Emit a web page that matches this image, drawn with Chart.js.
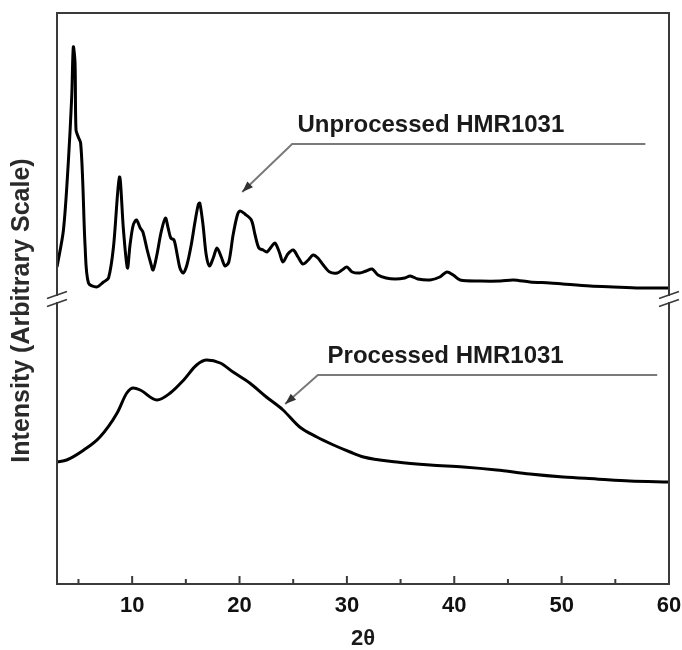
<!DOCTYPE html>
<html>
<head>
<meta charset="utf-8">
<script src="https://cdn.jsdelivr.net/npm/chart.js@4.4.1/dist/chart.umd.min.js"></script>
<style>
  html, body { margin: 0; padding: 0; background: #fff; }
  #wrap { width: 682px; height: 650px; }
</style>
</head>
<body>
<div id="wrap"><canvas id="xrdChart" width="682" height="650"></canvas></div>
<script>
// 2-theta angles and intensities (arbitrary units)
const unprocAngle = [
  3.0, 3.6, 4.05, 4.37, 4.52, 4.68, 4.77, 4.98, 5.2, 5.39,
  5.62, 5.93, 6.7, 7.33, 7.8, 8.26, 8.82, 9.19, 9.56, 9.8,
  10.1, 10.4, 10.75, 11.0, 11.4, 11.7, 11.95, 12.3, 12.7, 13.1,
  13.35, 13.6, 13.9, 14.2, 14.45, 14.75, 15.1, 15.5, 15.85, 16.15,
  16.3, 16.6, 16.9, 17.2, 17.55, 17.9, 18.3, 18.65, 19.0, 19.4,
  19.8, 20.05, 20.5, 21.1, 21.45, 21.8, 22.2, 22.55, 22.95, 23.3,
  23.7, 24.05, 24.5, 25.0, 25.45, 25.9, 26.4, 26.85, 27.3, 27.8,
  28.4, 29.1, 29.55, 30.0, 30.5, 31.2, 31.8, 32.35, 32.9, 33.65,
  34.5, 35.4, 35.9, 36.6, 37.75, 38.65, 39.3, 39.9, 40.55, 42.4,
  44.3, 45.5, 47.05, 48.9, 50.1, 52.65, 54.8, 57.3, 60
];
const unprocIntensity = [
  317, 354, 421, 487, 537, 521, 454, 447, 441, 404,
  337, 301, 297, 302, 306, 337, 407, 354, 316, 339,
  359, 364, 356, 352, 334, 322, 314, 329, 352, 366,
  356, 346, 344, 329, 316, 311, 319, 339, 362, 379,
  381, 359, 329, 318, 326, 336, 327, 318, 322, 349,
  369, 373, 370, 364, 349, 336, 334, 332, 337, 341,
  332, 322, 330, 334, 327, 320, 324, 329, 326, 319,
  312, 311, 314, 317, 312, 311, 313, 315, 309, 306,
  305, 306, 308, 305, 304, 307, 312, 309, 304, 303,
  303, 304, 302, 301, 300, 298, 297, 296, 296
];
const procAngle = [
  3.0, 3.9, 5.5, 7.0, 8.6, 9.5, 10.1, 10.75, 12.3, 13.55,
  14.8, 16.0, 16.95, 18.2, 19.4, 20.95, 22.5, 24.05, 25.6, 27.2,
  28.75, 30.3, 31.55, 34.65, 37.75, 40.85, 43.95, 47.05, 50.15, 53.25,
  56.35, 60
];
const procIntensity = [
  122, 124, 134, 147, 171, 191, 196, 194, 184, 191,
  204, 219, 224, 221, 212, 201, 187, 174, 157, 147,
  139, 132, 127, 122, 119, 117, 114, 110, 107, 105,
  103, 102
];
const majorTicks = [10, 20, 30, 40, 50, 60];
const minorTicks = [5, 15, 25, 35, 45, 55];
const seriesLabels = ['Unprocessed HMR1031', 'Processed HMR1031'];

// callouts in data units: label start, elbow of the leader, end of the leader, arrow tip
const callouts = [
  { text: seriesLabels[0], tx: 25.4, ty: 452, ex: 24.9, ey: 440, endX: 57.8, px: 20.25, py: 392 },
  { text: seriesLabels[1], tx: 28.2, ty: 221, ex: 27.3, ey: 209, endX: 58.9, px: 24.25, py: 180 }
];
const breakValue = 285;

const boldFont = '"Liberation Sans", Arial, Helvetica, sans-serif';

const frameAndNotes = {
  id: 'frameAndNotes',
  afterDatasetsDraw(chart) {
    const { ctx, chartArea: a, scales: { x, y } } = chart;
    ctx.save();

    // box frame
    ctx.strokeStyle = '#3a3a3a';
    ctx.lineWidth = 2;
    ctx.strokeRect(a.left, a.top, a.right - a.left, a.bottom - a.top);

    // inward ticks on the bottom axis
    ctx.beginPath();
    majorTicks.forEach(v => {
      const px = x.getPixelForValue(v);
      ctx.moveTo(px, a.bottom);
      ctx.lineTo(px, a.bottom - 8);
    });
    minorTicks.forEach(v => {
      const px = x.getPixelForValue(v);
      ctx.moveTo(px, a.bottom);
      ctx.lineTo(px, a.bottom - 5);
    });
    ctx.stroke();

    // axis breaks
    const by = y.getPixelForValue(breakValue);
    [a.left, a.right].forEach(ax => {
      ctx.fillStyle = '#fff';
      ctx.fillRect(ax - 3, by - 3, 6, 6);
      ctx.strokeStyle = '#3a3a3a';
      ctx.lineWidth = 1.6;
      ctx.beginPath();
      [-4, 4].forEach(k => {
        ctx.moveTo(ax - 10, by + k + 3.5);
        ctx.lineTo(ax + 10, by + k - 3.5);
      });
      ctx.stroke();
    });

    // callouts
    callouts.forEach(c => {
      const ex = x.getPixelForValue(c.ex), ey = y.getPixelForValue(c.ey);
      const px = x.getPixelForValue(c.px), py = y.getPixelForValue(c.py);
      ctx.strokeStyle = '#7a7a7a';
      ctx.lineWidth = 2;
      ctx.beginPath();
      ctx.moveTo(x.getPixelForValue(c.endX), ey);
      ctx.lineTo(ex, ey);
      ctx.lineTo(px, py);
      ctx.stroke();
      const ang = Math.atan2(py - ey, px - ex);
      ctx.fillStyle = '#333';
      ctx.beginPath();
      ctx.moveTo(px, py);
      ctx.lineTo(px - 11 * Math.cos(ang) + 4 * Math.sin(ang), py - 11 * Math.sin(ang) - 4 * Math.cos(ang));
      ctx.lineTo(px - 11 * Math.cos(ang) - 4 * Math.sin(ang), py - 11 * Math.sin(ang) + 4 * Math.cos(ang));
      ctx.closePath();
      ctx.fill();

      ctx.fillStyle = '#1a1a1a';
      ctx.font = 'bold 24px ' + boldFont;
      ctx.textAlign = 'left';
      ctx.textBaseline = 'alphabetic';
      ctx.fillText(c.text, x.getPixelForValue(c.tx), y.getPixelForValue(c.ty));
    });

    // y axis title
    ctx.translate(22, (a.top + a.bottom) / 2 + 12);
    ctx.rotate(-Math.PI / 2);
    ctx.fillStyle = '#2a2a2a';
    ctx.font = 'bold 25px ' + boldFont;
    ctx.textAlign = 'center';
    ctx.textBaseline = 'middle';
    ctx.fillText('Intensity (Arbitrary Scale)', 0, 0);

    ctx.restore();
  }
};

const canvas = document.getElementById('xrdChart');

new Chart(canvas, {
  type: 'line',
  data: {
    datasets: [
      {
        label: seriesLabels[0],
        data: unprocAngle.map((a, i) => ({ x: a, y: unprocIntensity[i] })),
        borderColor: '#000',
        borderWidth: 3,
        borderJoinStyle: 'round',
        pointRadius: 0,
        tension: 0.3
      },
      {
        label: seriesLabels[1],
        data: procAngle.map((a, i) => ({ x: a, y: procIntensity[i] })),
        borderColor: '#000',
        borderWidth: 3,
        pointRadius: 0,
        cubicInterpolationMode: 'monotone'
      }
    ]
  },
  options: {
    responsive: false,
    animation: false,
    layout: { padding: { top: 13, right: 13, left: 0, bottom: 0 } },
    plugins: {
      legend: { display: false },
      tooltip: { enabled: false }
    },
    scales: {
      x: {
        type: 'linear',
        min: 3,
        max: 60,
        afterBuildTicks: s => { s.ticks = majorTicks.map(v => ({ value: v })); },
        afterFit: s => { s.height = 66; s.paddingLeft = 0; s.paddingRight = 0; },
        grid: { display: false, drawTicks: false },
        border: { display: false },
        ticks: {
          color: '#111',
          padding: 9,
          maxRotation: 0,
          font: { family: boldFont, size: 22, weight: 'bold' }
        },
        title: {
          display: true,
          text: '2θ',
          color: '#1a1a1a',
          padding: { top: 0, bottom: 0 },
          font: { family: boldFont, size: 22, weight: 'bold', lineHeight: 1 }
        }
      },
      y: {
        type: 'linear',
        min: 0,
        max: 571,
        afterFit: s => { s.width = 57; },
        grid: { display: false, drawTicks: false },
        border: { display: false },
        ticks: { display: false }
      }
    }
  },
  plugins: [frameAndNotes]
});
</script>
</body>
</html>
